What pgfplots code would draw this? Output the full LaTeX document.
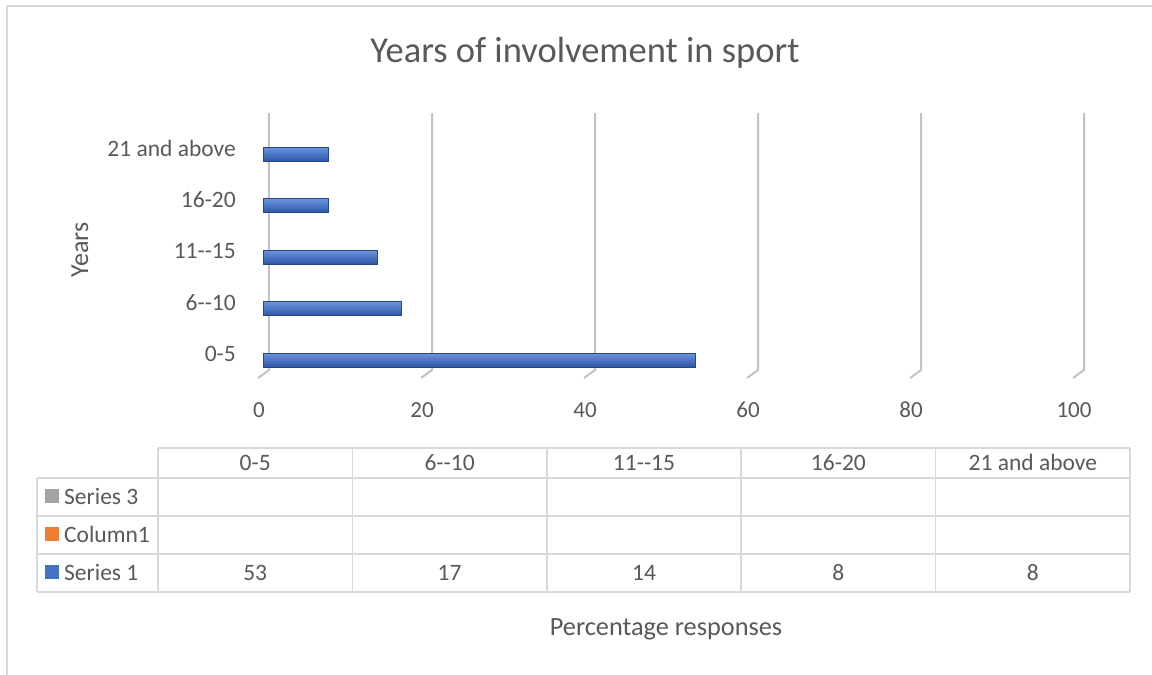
\documentclass[border=0pt]{standalone}
\usepackage{fontspec}
\setmainfont{Carlito}
\usepackage{pgfplots}
\pgfplotsset{compat=1.18}
\definecolor{txt}{HTML}{595959}
\definecolor{gridc}{HTML}{C3C3C3}
\definecolor{framec}{HTML}{D9D9D9}
\definecolor{barc}{HTML}{3B69CB}
\definecolor{bartop}{HTML}{6D95DE}
\definecolor{barbot}{HTML}{2C55A8}
\definecolor{baredge}{HTML}{2A4680}
\definecolor{sthree}{HTML}{A5A5A5}
\definecolor{colone}{HTML}{ED7D31}
\definecolor{sone}{HTML}{4472C4}
\begin{document}
\begin{tikzpicture}
\path[use as bounding box, fill=white] (0pt,0pt) rectangle (1152pt,-675pt);
\draw[framec, line width=1.3pt] (1152pt,-6pt) -- (7pt,-6pt) -- (7pt,-675pt);
\node[txt, anchor=base, inner sep=0pt, font=\fontsize{36.5pt}{44pt}\selectfont] at (585pt,-62pt) {Years of involvement in sport};
\node[txt, anchor=base, rotate=90, inner sep=0pt, font=\fontsize{26pt}{31pt}\selectfont] at (88pt,-250pt) {Years};
\node[txt, anchor=base, inner sep=0pt, font=\fontsize{26.3pt}{31pt}\selectfont] at (666pt,-635pt) {Percentage responses};

\begin{axis}[
  at={(263pt,-385.75pt)}, anchor=south west,
  scale only axis, width=815pt, height=257.5pt,
  xmin=0, xmax=100, ymin=-0.5, ymax=4.5,
  xtick={0,20,40,60,80,100}, ytick={0,1,2,3,4},
  yticklabels={0-5,{6-{}-10},{11-{}-15},16-20,21 and above},
  axis line style={draw=none}, major tick length=0pt, tick style={draw=none},
  clip=false,
  /pgf/number format/assume math mode=true,
  xticklabel style={txt, font=\fontsize{23pt}{27pt}\selectfont, anchor=center, inner sep=0pt, yshift=-24.25pt, xshift=-4pt},
  yticklabel style={txt, font=\fontsize{23.5pt}{28pt}\selectfont, anchor=east, inner sep=0pt, xshift=-27pt, yshift=6pt},
  barsty/.style={xbar, bar width=14pt, bar shift=0pt, draw=baredge, line width=0.8pt,
    top color=bartop, middle color=barc, bottom color=barbot},
]
\addplot[gridc, line width=2pt] coordinates {(0.736,4.796) (0.736,-0.194) (-0.613,-0.35)};
\addplot[gridc, line width=2pt] coordinates {(20.736,4.796) (20.736,-0.194) (19.387,-0.35)};
\addplot[gridc, line width=2pt] coordinates {(40.736,4.796) (40.736,-0.194) (39.387,-0.35)};
\addplot[gridc, line width=2pt] coordinates {(60.736,4.796) (60.736,-0.194) (59.387,-0.35)};
\addplot[gridc, line width=2pt] coordinates {(80.736,4.796) (80.736,-0.194) (79.387,-0.35)};
\addplot[gridc, line width=2pt] coordinates {(100.736,4.796) (100.736,-0.194) (99.387,-0.35)};
\addplot[barsty] coordinates {(53,0)};
\addplot[barsty] coordinates {(17,1)};
\addplot[barsty] coordinates {(14,2)};
\addplot[barsty] coordinates {(8,3)};
\addplot[barsty] coordinates {(8,4)};
\end{axis}

% data table
\begin{scope}[framec, line width=1.5pt]
\draw (158pt,-448pt) -- (1130pt,-448pt);
\draw (37pt,-478pt) -- (1130pt,-478pt);
\draw (37pt,-516pt) -- (1130pt,-516pt);
\draw (37pt,-554pt) -- (1130pt,-554pt);
\draw (37pt,-592pt) -- (1130pt,-592pt);
\draw (37pt,-478pt) -- (37pt,-592pt);
\draw (158pt,-448pt) -- (158pt,-592pt);
\draw (352.4pt,-448pt) -- (352.4pt,-592pt);
\draw (546.8pt,-448pt) -- (546.8pt,-592pt);
\draw (741.2pt,-448pt) -- (741.2pt,-592pt);
\draw (935.6pt,-448pt) -- (935.6pt,-592pt);
\draw (1130pt,-448pt) -- (1130pt,-592pt);
\end{scope}
\begin{scope}[every node/.style={txt, inner sep=0pt, anchor=base, font=\fontsize{23.5pt}{28pt}\selectfont}]
\node at (255.2pt,-470pt) {0-5};
\node at (449.6pt,-470pt) {6-{}-10};
\node at (644pt,-470pt) {11-{}-15};
\node at (838.4pt,-470pt) {16-20};
\node at (1032.8pt,-470pt) {21 and above};
\node[anchor=base west] at (64pt,-504.5pt) {Series 3};
\node[anchor=base west] at (64pt,-542.5pt) {Column1};
\node[anchor=base west] at (64pt,-580.5pt) {Series 1};
\node at (255.2pt,-580.5pt) {53};
\node at (449.6pt,-580.5pt) {17};
\node at (644pt,-580.5pt) {14};
\node at (838.4pt,-580.5pt) {8};
\node at (1032.8pt,-580.5pt) {8};
\end{scope}
\fill[sthree] (45pt,-489pt) rectangle (59pt,-503pt);
\fill[colone] (45pt,-527pt) rectangle (59pt,-541pt);
\fill[sone] (45pt,-565pt) rectangle (59pt,-579pt);
\end{tikzpicture}
\end{document}
